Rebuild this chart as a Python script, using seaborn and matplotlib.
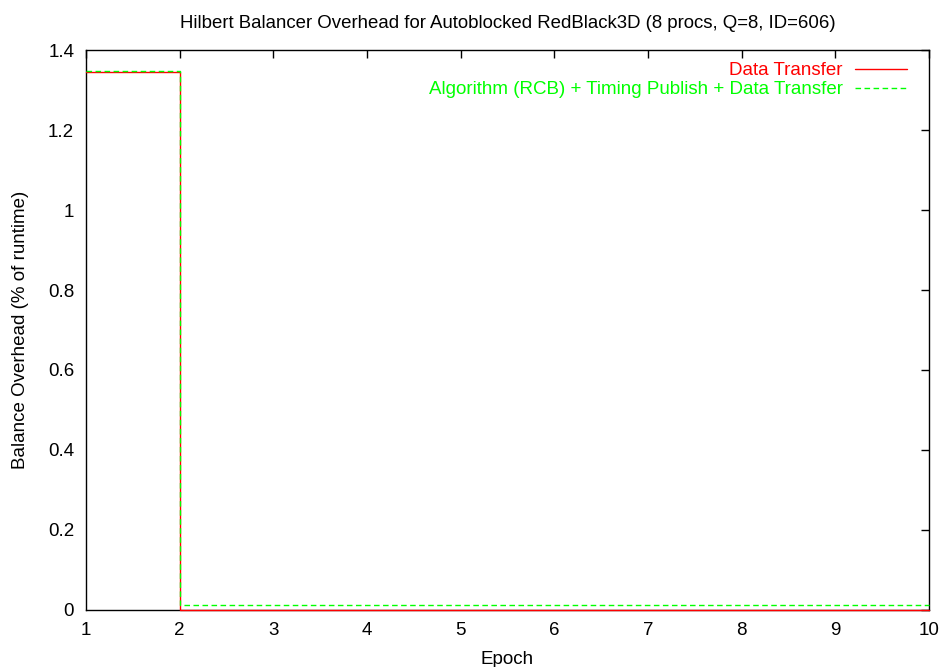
import matplotlib
matplotlib.use("Agg")
import matplotlib.pyplot as plt
import seaborn as sns
import pandas as pd

sns.set_style("white")
plt.rcParams["font.family"] = ["Liberation Sans", "DejaVu Sans"]
plt.rcParams["text.color"] = "black"
plt.rcParams["axes.labelcolor"] = "black"

epochs = [1, 2, 3, 4, 5, 6, 7, 8, 9, 10]
data_transfer = [1.344, 0.0, 0.0, 0.0, 0.0, 0.0, 0.0, 0.0, 0.0, 0.0]
algo_total = [1.348, 0.013, 0.013, 0.013, 0.013, 0.013, 0.013, 0.013, 0.013, 0.013]

series_names = ["Data Transfer", "Algorithm (RCB) + Timing Publish + Data Transfer"]
colors = ["#ff0000", "#00ff00"]
styles = ["-", (0, (4, 2.5))]
widths = [1.0, 1.0]

df = pd.DataFrame({"Epoch": epochs, series_names[0]: data_transfer, series_names[1]: algo_total})

fig = plt.figure(figsize=(9.42, 6.67), dpi=100)
ax = fig.add_axes([0.0913, 0.0855, 0.8949, 0.8395])

for name, c, ls, lw in zip(series_names, colors, styles, widths):
    sns.lineplot(data=df, x="Epoch", y=name, ax=ax, color=c, linestyle=ls,
                 linewidth=lw, drawstyle="steps-post", label=name,
                 zorder=3, clip_on=False)

ax.set_xlim(1, 10)
ax.set_ylim(0, 1.4)
ax.set_xticks(range(1, 11))
ax.set_yticks([0, 0.2, 0.4, 0.6, 0.8, 1, 1.2, 1.4])
ax.set_yticklabels(["0", "0.2", "0.4", "0.6", "0.8", "1", "1.2", "1.4"])
ax.tick_params(direction="in", length=6, width=1, top=True, right=True,
               labelsize=13.5, colors="black")
ax.tick_params(axis="x", pad=9)
ax.tick_params(axis="y", pad=8.5)
for s in ax.spines.values():
    s.set_color("black")
    s.set_linewidth(1)

ax.set_xlabel("Epoch", fontsize=13.5, labelpad=8)
ax.set_ylabel("Balance Overhead (% of runtime)", fontsize=13.5, labelpad=14)
ax.set_title("Hilbert Balancer Overhead for Autoblocked RedBlack3D (8 procs, Q=8, ID=606)",
             fontsize=13.4, pad=16)

leg = ax.legend(loc="upper right", bbox_to_anchor=(0.974, 0.978), frameon=False,
                markerfirst=False, fontsize=13.5, labelcolor="linecolor",
                handlelength=2.8, handletextpad=0.64, borderaxespad=0, borderpad=0,
                labelspacing=0.1)
for t in leg.get_texts():
    t.set_ha("right")

fig.savefig("out.png", dpi=100)
